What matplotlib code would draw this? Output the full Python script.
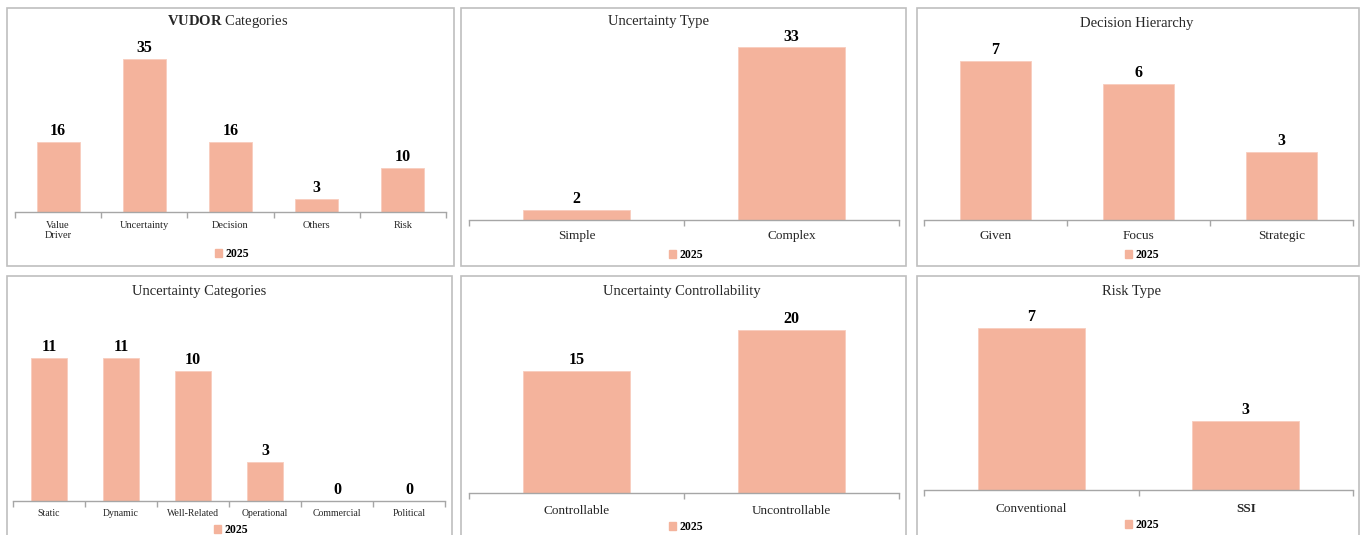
import matplotlib
matplotlib.use("Agg")
import matplotlib.pyplot as plt
from matplotlib.patches import Rectangle, Patch

plt.rcParams['font.family'] = ['Liberation Serif', 'DejaVu Serif']
plt.rcParams['mathtext.fontset'] = 'custom'
plt.rcParams['mathtext.rm'] = 'Liberation Serif'
plt.rcParams['mathtext.bf'] = 'Liberation Serif:bold'

# ---------------- data ----------------
vudor_categories = ["Value\nDriver", "Uncertainty", "Decision", "Others", "Risk"]
vudor_values = [16, 35, 16, 3, 10]

utype_categories = ["Simple", "Complex"]
utype_values = [2, 33]

hierarchy_categories = ["Given", "Focus", "Strategic"]
hierarchy_values = [7, 6, 3]

ucat_categories = ["Static", "Dynamic", "Well-Related", "Operational", "Commercial", "Political"]
ucat_values = [11, 11, 10, 3, 0, 0]

control_categories = ["Controllable", "Uncontrollable"]
control_values = [15, 20]

risk_categories = ["Conventional", "SSI"]
risk_values = [7, 3]

series_label = "2025"

titles = [r"$\mathbf{VUDOR}$ Categories", "Uncertainty Type", "Decision Hierarchy",
          "Uncertainty Categories", "Uncertainty Controllability", "Risk Type"]

# ---------------- style ----------------
W, H = 1365, 535
BAR = '#F4B39C'
AXC = '#A6A6A6'
BORDER = '#BFBFBF'
TXT = '#262626'

fig = plt.figure(figsize=(W / 100, H / 100), dpi=100)
fig.patch.set_facecolor('white')


def fx(x):
    return x / W


def fy(y):
    return 1 - y / H


panels = [
    dict(cats=vudor_categories, vals=vudor_values, border=(7, 8, 454, 266),
         ax=(15, 446, 37, 212), ymax=40, tfs=7.5, pad=6.5, title_xy=(228, 21), leg_xy=(232, 254)),
    dict(cats=utype_categories, vals=utype_values, border=(461, 8, 906, 266),
         ax=(469, 899, 37, 220), ymax=35, tfs=9.5, pad=7.5, title_xy=(659, 22), leg_xy=(686, 255)),
    dict(cats=hierarchy_categories, vals=hierarchy_values, border=(917, 8, 1359, 266),
         ax=(924, 1353, 38, 220), ymax=8, tfs=9.5, pad=7.5, title_xy=(1137, 23), leg_xy=(1142, 255)),
    dict(cats=ucat_categories, vals=ucat_values, border=(7, 276, 452, 560),
         ax=(13, 445, 306, 501), ymax=15, tfs=7, pad=6.0, title_xy=(199, 291), leg_xy=(231, 530)),
    dict(cats=control_categories, vals=control_values, border=(461, 276, 906, 560),
         ax=(469, 899, 289, 493), ymax=25, tfs=9.5, pad=8.5, title_xy=(682, 291), leg_xy=(686, 527)),
    dict(cats=risk_categories, vals=risk_values, border=(917, 276, 1359, 560),
         ax=(924, 1353, 305, 490), ymax=8, tfs=9.5, pad=9.0, title_xy=(1131, 291), leg_xy=(1142, 525)),
]

for i, p in enumerate(panels):
    bx0, by0, bx1, by1 = p['border']
    fig.patches.append(Rectangle((fx(bx0), fy(by1)), fx(bx1 - bx0), (by1 - by0) / H,
                                 transform=fig.transFigure, fill=False,
                                 edgecolor=BORDER, linewidth=1.2, zorder=0))
    x0, x1, yt, yb = p['ax']
    ax = fig.add_axes([fx(x0), fy(yb), fx(x1 - x0), (yb - yt) / H])
    ax.patch.set_alpha(0)
    n = len(p['cats'])
    pos = list(range(n))
    bars = ax.bar(pos, p['vals'], width=0.5, color=BAR, edgecolor='#F8CDBE', linewidth=0.6, zorder=2)
    ax.set_xlim(-0.5, n - 0.5)
    ax.set_ylim(0, p['ymax'])
    for s in ['top', 'right', 'left']:
        ax.spines[s].set_visible(False)
    ax.spines['bottom'].set_color(AXC)
    ax.spines['bottom'].set_linewidth(1.0)
    ax.set_yticks([])
    ax.set_xticks(pos)
    ax.set_xticklabels(p['cats'], fontsize=p['tfs'], color=TXT, linespacing=1.1)
    ax.tick_params(axis='x', which='major', length=0, pad=p['pad'])
    ax.set_xticks([k - 0.5 for k in range(n + 1)], minor=True)
    ax.tick_params(axis='x', which='minor', length=4, color=AXC, width=1.0, direction='out')
    if i == 5:
        ax.get_xticklabels()[1].set_fontweight('bold')
    for b, v in zip(bars, p['vals']):
        ax.annotate(str(v), (b.get_x() + b.get_width() / 2, v), xytext=(0, 2),
                    textcoords='offset points', ha='center', va='bottom',
                    fontsize=11.5, fontweight='bold', color='black')
    tx, ty = p['title_xy']
    fig.text(fx(tx), fy(ty), titles[i], ha='center', va='center', fontsize=10.5, color=TXT)
    lx, ly = p['leg_xy']
    fig.legend(handles=[Patch(facecolor=BAR, edgecolor=BAR, label=series_label)],
               loc='center', bbox_to_anchor=(fx(lx), fy(ly)), frameon=False,
               handlelength=0.6, handleheight=0.6, handletextpad=0.3, borderpad=0,
               prop={'weight': 'bold', 'size': 8.5})

fig.savefig('out.png', dpi=100, facecolor='white')
